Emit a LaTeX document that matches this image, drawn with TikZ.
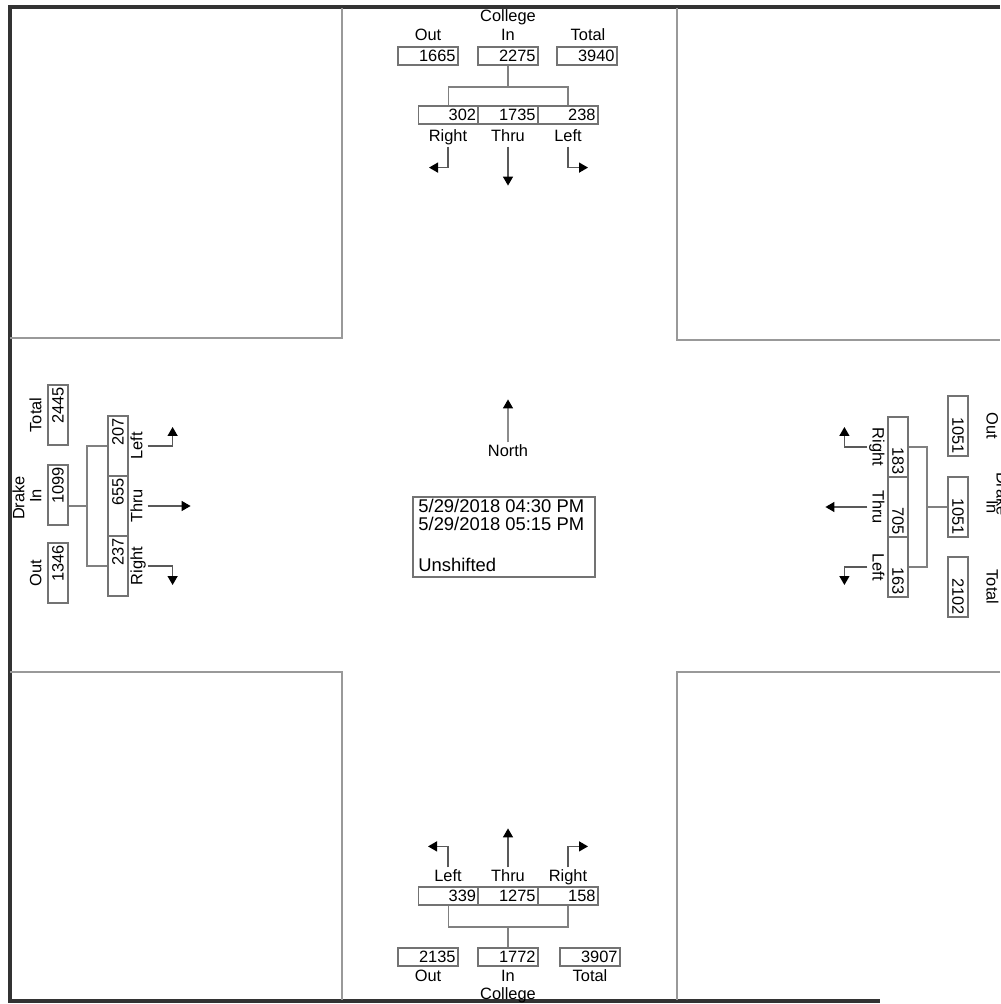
\documentclass[tikz,border=0pt]{standalone}
\usepackage{fontspec}
\setmainfont{Liberation Sans}
\usetikzlibrary{arrows.meta}
\begin{document}
\begin{tikzpicture}[x=0.5pt,y=-0.5pt,
  mbox/.style={draw=black!55,line width=0.75pt,inner sep=0pt,minimum width=30pt,minimum height=9pt},
  vbox/.style={draw=black!55,line width=0.75pt,inner sep=0pt,minimum width=10pt,minimum height=30pt},
  num/.style={font=\fontsize{8.2}{9}\selectfont,inner sep=1.4pt},
  lab/.style={font=\fontsize{8.2}{9}\selectfont,inner sep=0.8pt,text height=6pt,text depth=1.6pt},
  big/.style={font=\fontsize{9.2}{11}\selectfont,inner sep=0pt,anchor=west},
  conn/.style={draw=black!50,line width=0.75pt},
  arr/.style={draw=black!65,line width=0.7pt,-{Triangle[width=5pt,length=4.5pt,color=black]}},
  quad/.style={draw=black!40,line width=0.7pt},
  frame/.style={draw=black!80,line width=2pt}]
\useasboundingbox (0,0) rectangle (1000,1004);
\clip (0,0) rectangle (1000,1004);

% frame and quadrants
\draw[frame] (1000,7) -- (10,7) -- (10,1001) -- (880,1001);
\draw[quad] (10,338) -- (342,338) -- (342,8);
\draw[quad] (677,8) -- (677,340) -- (1000,340);
\draw[quad] (10,672) -- (342,672) -- (342,1000);
\draw[quad] (1000,672) -- (677,672) -- (677,1000);

% ---------- top (College) ----------
\node[lab] (tCol) at (508,17) {College};
\node[lab] (tOutL) at (428,36) {Out};
\node[lab] (tInL) at (508,36) {In};
\node[lab] (tTotL) at (588,36) {Total};
\node[mbox] (tOut) at (428,56) {}; \node[num,anchor=east] (tOutN) at (tOut.east) {1665};
\node[mbox] (tIn) at (508,56) {}; \node[num,anchor=east] (tInN) at (tIn.east) {2275};
\node[mbox] (tTot) at (587,56) {}; \node[num,anchor=east] (tTotN) at (tTot.east) {3940};
\node[mbox] (tR) at (448.5,115) {}; \node[num,anchor=east] (tRN) at (tR.east) {302};
\node[mbox] (tT) at (508,115) {}; \node[num,anchor=east] (tTN) at (tT.east) {1735};
\node[mbox] (tL) at (568,115) {}; \node[num,anchor=east] (tLN) at (tL.east) {238};
\coordinate (tBus) at (508,87);
\draw[conn] (tIn.south) -- (tBus);
\draw[conn] (tR.north) |- (tBus) -| (tL.north);
\node[lab] (tRl) at (448,137) {Right};
\node[lab] (tTl) at (508,137) {Thru};
\node[lab] (tLl) at (568,137) {Left};
\draw[arr] (tRl.south) -- ++(0,21) -- ++(-19,0);
\draw[arr] (tTl.south) -- ++(0,39);
\draw[arr] (tLl.south) -- ++(0,21) -- ++(20,0);

% ---------- bottom (College) ----------
\node[lab] (bLl) at (448,877) {Left};
\node[lab] (bTl) at (508,877) {Thru};
\node[lab] (bRl) at (568,877) {Right};
\draw[arr] (bLl.north) -- ++(0,-21) -- ++(-20,0);
\draw[arr] (bTl.north) -- ++(0,-39);
\draw[arr] (bRl.north) -- ++(0,-21) -- ++(20,0);
\node[mbox] (bL) at (448.5,896) {}; \node[num,anchor=east] (bLN) at (bL.east) {339};
\node[mbox] (bT) at (508,896) {}; \node[num,anchor=east] (bTN) at (bT.east) {1275};
\node[mbox] (bR) at (568,896) {}; \node[num,anchor=east] (bRN) at (bR.east) {158};
\node[mbox] (bOut) at (428,957) {}; \node[num,anchor=east] (bOutN) at (bOut.east) {2135};
\node[mbox] (bIn) at (508,957) {}; \node[num,anchor=east] (bInN) at (bIn.east) {1772};
\node[mbox] (bTot) at (590,957) {}; \node[num,anchor=east] (bTotN) at (bTot.east) {3907};
\coordinate (bBus) at (508,927);
\draw[conn] (bIn.north) -- (bBus);
\draw[conn] (bL.south) |- (bBus) -| (bR.south);
\node[lab] (bOutL) at (428,977) {Out};
\node[lab] (bInL) at (508,977) {In};
\node[lab] (bTotL) at (590,977) {Total};
\node[lab] (bCol) at (508,995) {College};

% ---------- left (Drake) ----------
\node[lab,rotate=90] (lDr) at (20,498) {Drake};
\node[lab,rotate=90] (lTotL) at (37,415) {Total};
\node[lab,rotate=90] (lInL) at (37,496) {In};
\node[lab,rotate=90] (lOutL) at (37,573) {Out};
\node[vbox] (lTot) at (58,415) {}; \node[num,rotate=90,anchor=east] (lTotN) at (lTot.north) {2445};
\node[vbox] (lIn) at (58,495) {}; \node[num,rotate=90,anchor=east] (lInN) at (lIn.north) {1099};
\node[vbox] (lOut) at (58,573) {}; \node[num,rotate=90,anchor=east] (lOutN) at (lOut.north) {1346};
\node[vbox] (lL) at (118,446) {}; \node[num,rotate=90,anchor=east] (lLN) at (lL.north) {207};
\node[vbox] (lT) at (118,506) {}; \node[num,rotate=90,anchor=east] (lTN) at (lT.north) {655};
\node[vbox] (lR) at (118,566) {}; \node[num,rotate=90,anchor=east] (lRN) at (lR.north) {237};
\coordinate (lBus) at (87,506);
\draw[conn] (lIn.east |- lBus) -- (lBus);
\draw[conn] (lL.west) -| (lBus) |- (lR.west);
\node[lab,rotate=90] (lLl) at (138,446) {Left};
\node[lab,rotate=90] (lTl) at (138,506) {Thru};
\node[lab,rotate=90] (lRl) at (138,566) {Right};
\draw[arr] (lLl.south) -- ++(25,0) -- ++(0,-19);
\draw[arr] (lTl.south) -- ++(43,0);
\draw[arr] (lRl.south) -- ++(25,0) -- ++(0,19);

% ---------- right (Drake) ----------
\node[lab,rotate=-90] (rDr) at (1001,494) {Drake};
\node[lab,rotate=-90] (rOutL) at (991,426) {Out};
\node[lab,rotate=-90] (rInL) at (991,507) {In};
\node[lab,rotate=-90] (rTotL) at (991,587) {Total};
\node[vbox] (rOut) at (958,426) {}; \node[num,rotate=-90,anchor=east] (rOutN) at (rOut.south) {1051};
\node[vbox] (rIn) at (958,507) {}; \node[num,rotate=-90,anchor=east] (rInN) at (rIn.south) {1051};
\node[vbox] (rTot) at (958,587) {}; \node[num,rotate=-90,anchor=east] (rTotN) at (rTot.south) {2102};
\node[vbox] (rR) at (898,447) {}; \node[num,rotate=-90,anchor=east] (rRN) at (rR.south) {183};
\node[vbox] (rT) at (898,507) {}; \node[num,rotate=-90,anchor=east] (rTN) at (rT.south) {705};
\node[vbox] (rL) at (898,567) {}; \node[num,rotate=-90,anchor=east] (rLN) at (rL.south) {163};
\coordinate (rBus) at (927,507);
\draw[conn] (rIn.west) -- (rBus);
\draw[conn] (rR.east) -| (rBus) |- (rL.east);
\node[lab,rotate=-90] (rRl) at (877,447) {Right};
\node[lab,rotate=-90] (rTl) at (877,507) {Thru};
\node[lab,rotate=-90] (rLl) at (877,567) {Left};
\draw[arr] (rRl.south) -- ++(-23,0) -- ++(0,-20);
\draw[arr] (rTl.south) -- ++(-42,0);
\draw[arr] (rLl.south) -- ++(-23,0) -- ++(0,18);

% ---------- centre ----------
\node[lab] (north) at (508,452) {North};
\draw[draw=black!45,line width=0.7pt,-{Triangle[width=5pt,length=4.5pt,color=black]}] (north.north) -- ++(0,-43);
\node[draw=black!55,line width=0.75pt,inner sep=0pt,minimum width=91pt,minimum height=40pt] (info) at (504,537) {};
\node[big] (d1) at (418,506) {5/29/2018 04:30 PM};
\node[big] (d2) at (418,524) {5/29/2018 05:15 PM};
\node[big] (d3) at (418,565) {Unshifted};
\end{tikzpicture}
\end{document}
